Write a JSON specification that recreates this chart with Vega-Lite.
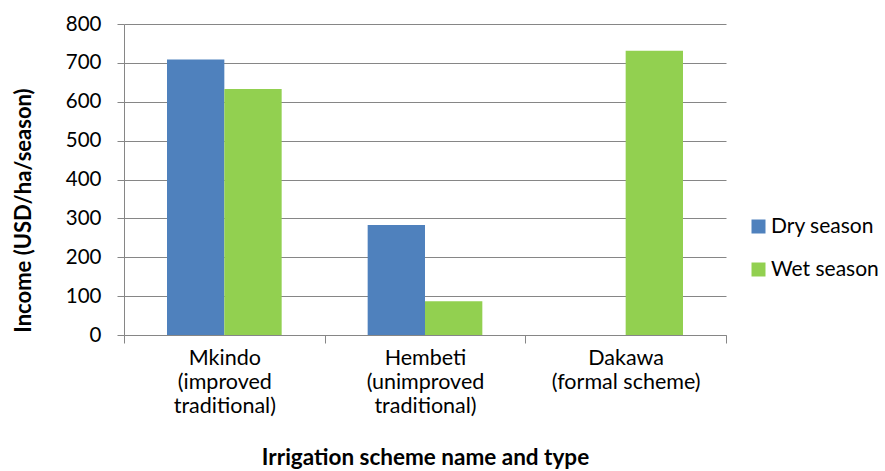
{
  "$schema": "https://vega.github.io/schema/vega-lite/v6.json",
  "width": 602,
  "height": 311,
  "autosize": "none",
  "padding": {"left": 124, "top": 24, "right": 159, "bottom": 136},
  "background": "white",
  "config": {
    "font": "Lato",
    "view": {"stroke": null},
    "axis": {
      "labelFont": "Lato",
      "titleFont": "Lato",
      "labelColor": "#000000",
      "titleColor": "#000000",
      "domainColor": "#868686",
      "tickColor": "#868686",
      "gridColor": "#868686",
      "gridWidth": 1
    }
  },
  "data": {
    "values": [
      {"scheme": "Mkindo (improved traditional)", "season": "Dry season", "income": 709},
      {"scheme": "Mkindo (improved traditional)", "season": "Wet season", "income": 633},
      {"scheme": "Hembeti (unimproved traditional)", "season": "Dry season", "income": 283},
      {"scheme": "Hembeti (unimproved traditional)", "season": "Wet season", "income": 87},
      {"scheme": "Dakawa (formal scheme)", "season": "Wet season", "income": 731}
    ]
  },
  "mark": {"type": "bar"},
  "encoding": {
    "x": {
      "field": "scheme",
      "type": "nominal",
      "sort": ["Mkindo (improved traditional)", "Hembeti (unimproved traditional)", "Dakawa (formal scheme)"],
      "scale": {"paddingInner": 0, "paddingOuter": 0},
      "axis": {
        "title": "Irrigation scheme name and type",
        "titleFontSize": 22.5,
        "titleFontWeight": "bold",
        "titleY": 122,
        "titleBaseline": "middle",
        "labelAngle": 0,
        "labelFontSize": 21.5,
        "labelLineHeight": 24,
        "labelPadding": 4,
        "labelBaseline": "top",
        "tickBand": "extent",
        "tickSize": 8,
        "grid": false,
        "labelExpr": "datum.label == 'Mkindo (improved traditional)' ? ['Mkindo', '(improved', 'traditional)'] : datum.label == 'Hembeti (unimproved traditional)' ? ['Hembeti', '(unimproved', 'traditional)'] : datum.label == 'Dakawa (formal scheme)' ? ['Dakawa', '(formal scheme)'] : ''"
      }
    },
    "xOffset": {
      "field": "season",
      "type": "nominal",
      "scale": {"paddingInner": 0, "paddingOuter": 0.75}
    },
    "y": {
      "field": "income",
      "type": "quantitative",
      "scale": {"domain": [0, 800], "nice": false},
      "axis": {
        "title": "Income (USD/ha/season)",
        "titleFontSize": 22,
        "titleFontWeight": "bold",
        "titleAngle": -90,
        "titleX": -101,
        "titleY": 186,
        "titleAlign": "center",
        "titleBaseline": "middle",
        "values": [0, 100, 200, 300, 400, 500, 600, 700, 800],
        "labelFontSize": 20.5,
        "labelPadding": 16,
        "tickSize": 7,
        "grid": true
      }
    },
    "color": {
      "field": "season",
      "type": "nominal",
      "scale": {"domain": ["Dry season", "Wet season"], "range": ["#4F81BD", "#92D050"]},
      "legend": {
        "title": null,
        "orient": "none",
        "legendX": 624,
        "legendY": 192,
        "symbolType": "square",
        "symbolSize": 196,
        "symbolStrokeWidth": 0,
        "labelFont": "Lato",
        "labelFontSize": 21,
        "labelColor": "#000000",
        "labelOffset": 2,
        "rowPadding": 21
      }
    }
  }
}
